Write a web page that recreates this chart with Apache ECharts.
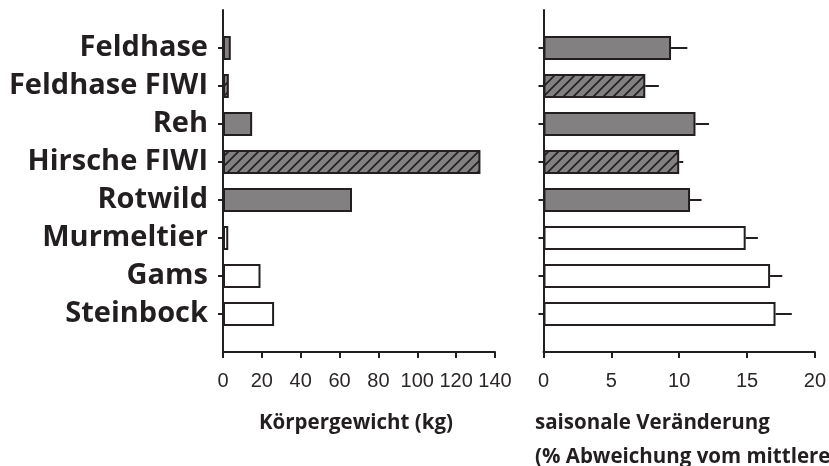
<!DOCTYPE html>
<html>
<head>
<meta charset="utf-8">
<script src="https://cdn.jsdelivr.net/npm/echarts@6/dist/echarts.min.js"></script>
<style>
html,body{margin:0;padding:0;background:#fff;}
#c{width:829px;height:466px;}
</style>
</head>
<body>
<div id="c"></div>
<script>
// ---- data ----
const categories = ['Feldhase', 'Feldhase FIWI', 'Reh', 'Hirsche FIWI', 'Rotwild', 'Murmeltier', 'Gams', 'Steinbock'];
const bodyWeight = [4, 3, 15, 132.5, 66.4, 2.7, 19.3, 26.3];
const seasonalChange = [9.4, 7.5, 11.2, 10.0, 10.8, 14.9, 16.7, 17.1];
const seasonalError = [1.2, 1.0, 1.0, 0.3, 0.85, 0.9, 0.9, 1.2];
const barKinds = ['grey', 'hatched', 'grey', 'hatched', 'grey', 'white', 'white', 'white'];
const weightTicks = [0, 20, 40, 60, 80, 100, 120, 140];
const changeTicks = [0, 5, 10, 15, 20];
const weightTitle = 'Körpergewicht (kg)';
const changeTitle1 = 'saisonale Veränderung';
const changeTitle2 = '(% Abweichung vom mittleren Körpergewicht)';

// ---- styles ----
const INK = '#231f20';
const GREY = '#838081';
function hatch() {
  const s = 10;
  const cv = document.createElement('canvas');
  cv.width = s; cv.height = s;
  const ctx = cv.getContext('2d');
  ctx.fillStyle = GREY;
  ctx.fillRect(0, 0, s, s);
  ctx.strokeStyle = INK;
  ctx.lineWidth = 1.6;
  ctx.beginPath();
  ctx.moveTo(-1, s + 1); ctx.lineTo(s + 1, -1);
  ctx.moveTo(-2, 2); ctx.lineTo(2, -2);
  ctx.moveTo(s - 2, s + 2); ctx.lineTo(s + 2, s - 2);
  ctx.stroke();
  return { image: cv, repeat: 'repeat' };
}
const hatchFill = hatch();
function fillFor(kind) {
  if (kind === 'grey') return GREY;
  if (kind === 'hatched') return hatchFill;
  return '#ffffff';
}

const axisCats = [''].concat(categories, ['']);
function pad(arr) { return [null].concat(arr, [null]); }
function barData(values) {
  return pad(values.map((v, i) => ({
    value: v,
    itemStyle: { color: fillFor(barKinds[i]), borderColor: INK, borderWidth: 2 }
  })));
}
const tickFn = (idx) => idx > 0 && idx < axisCats.length - 1;

const catAxisBase = {
  type: 'category',
  data: axisCats,
  inverse: true,
  boundaryGap: false,
  axisLine: { lineStyle: { color: INK, width: 2 } },
  axisTick: { show: true, inside: false, length: 5, interval: tickFn, lineStyle: { color: INK, width: 2 } },
  splitLine: { show: false }
};

const valAxisBase = {
  type: 'value',
  axisLine: { show: true, lineStyle: { color: INK, width: 2 } },
  axisTick: { show: true, length: 6, lineStyle: { color: INK, width: 2 } },
  splitLine: { show: false },
  axisLabel: { color: '#2b2627', fontFamily: 'Liberation Sans', fontSize: 20, margin: 19 }
};

const errData = seasonalChange.map((v, i) => [i + 1, v, v + seasonalError[i]]);

const chart = echarts.init(document.getElementById('c'), null, { renderer: 'canvas' });
chart.setOption({
  animation: false,
  backgroundColor: '#ffffff',
  grid: [
    { left: 223, top: 10, width: 272, height: 342 },
    { left: 543.5, top: 10, width: 273, height: 342 }
  ],
  yAxis: [
    Object.assign({}, catAxisBase, {
      gridIndex: 0,
      axisLabel: { interval: 0, color: INK, fontFamily: 'Open Sans', fontWeight: 'bold', fontSize: 29, margin: 15 }
    }),
    Object.assign({}, catAxisBase, {
      gridIndex: 1,
      axisLabel: { show: false }
    })
  ],
  xAxis: [
    Object.assign({}, valAxisBase, { gridIndex: 0, min: weightTicks[0], max: weightTicks[weightTicks.length - 1], interval: weightTicks[1] - weightTicks[0] }),
    Object.assign({}, valAxisBase, { gridIndex: 1, min: changeTicks[0], max: changeTicks[changeTicks.length - 1], interval: changeTicks[1] - changeTicks[0] })
  ],
  series: [
    {
      type: 'bar', xAxisIndex: 0, yAxisIndex: 0, barWidth: 24,
      data: barData(bodyWeight)
    },
    {
      type: 'bar', xAxisIndex: 1, yAxisIndex: 1, barWidth: 24,
      data: barData(seasonalChange)
    },
    {
      type: 'custom', xAxisIndex: 1, yAxisIndex: 1, z: 3,
      data: errData,
      dimensions: ['cat', 'val', 'hi'],
      encode: { y: 'cat', x: ['val', 'hi'] },
      renderItem: function (params, api) {
        const idx = api.value(0);
        const p1 = api.coord([api.value(1), idx]);
        const p2 = api.coord([api.value(2), idx]);
        return {
          type: 'line',
          shape: { x1: p1[0], y1: p1[1], x2: p2[0], y2: p2[1] },
          style: { stroke: INK, lineWidth: 2 }
        };
      }
    }
  ],
  graphic: [
    { type: 'text', left: 259, top: 413, style: { text: weightTitle, fill: INK, font: 'bold 20.5px "Open Sans"' } },
    { type: 'text', left: 535, top: 413, style: { text: changeTitle1, fill: INK, font: 'bold 20.5px "Open Sans"' } },
    { type: 'text', left: 535, top: 447, style: { text: changeTitle2, fill: INK, font: 'bold 20.5px "Open Sans"' } }
  ]
});
</script>
</body>
</html>
